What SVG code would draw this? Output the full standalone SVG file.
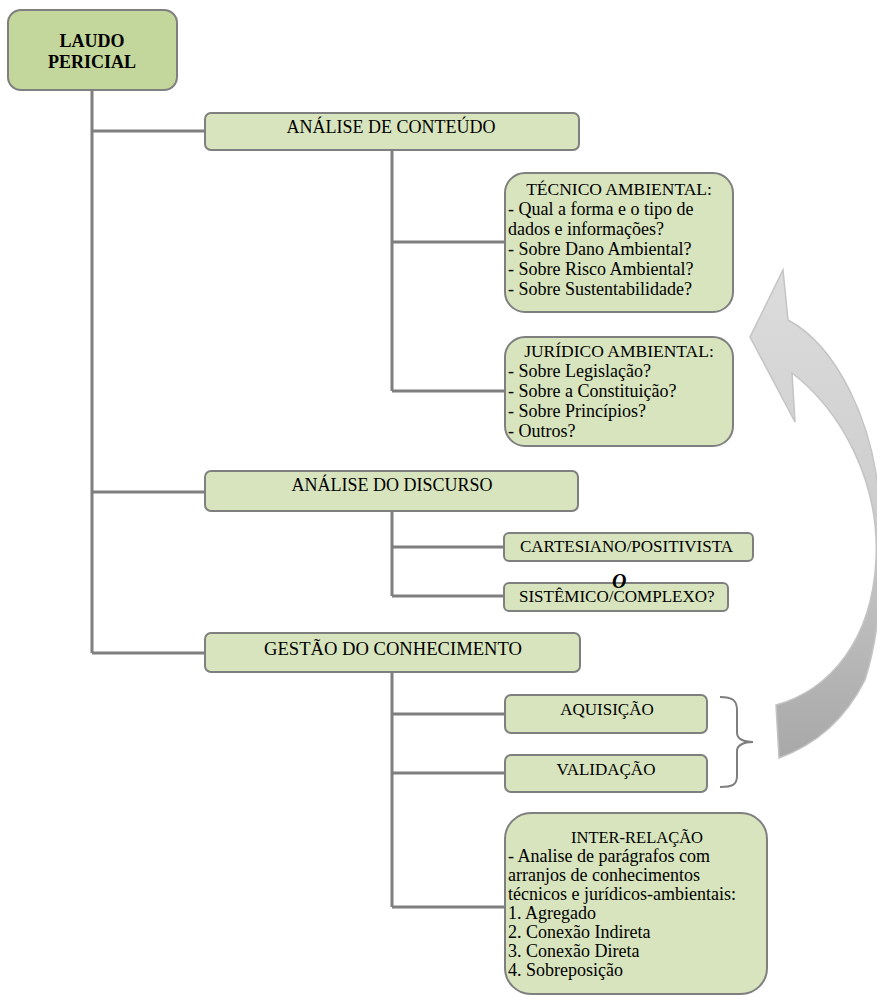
<svg xmlns="http://www.w3.org/2000/svg" width="877" height="996" viewBox="0 0 877 996">
<style>
.box{fill:#d7e4bd;stroke:#7f7f7f;stroke-width:2}
.root{fill:#c3d69b;stroke:#7f7f7f;stroke-width:2}
.ln{fill:none;stroke:#7f7f7f;stroke-width:3}
.br{fill:none;stroke:#7f7f7f;stroke-width:2}
text{font-family:"Liberation Serif","Times New Roman",serif;fill:#000}
.c{text-anchor:middle}
.t{font-size:18px}
</style>
<defs>
<linearGradient id="ag" gradientUnits="userSpaceOnUse" x1="0" y1="270" x2="0" y2="760">
<stop offset="0" stop-color="#dcdcdc"/>
<stop offset="0.45" stop-color="#cfcfcf"/>
<stop offset="1" stop-color="#a8a8a8"/>
</linearGradient>
</defs>
<rect width="877" height="996" fill="#ffffff"/>
<g id="connectors">
<path class="ln" d="M92,90 V653 M92,131 H205 M92,492 H205 M92,653 H205"/>
<path class="ln" d="M392,149 V391 M392,242 H505 M392,391 H505"/>
<path class="ln" d="M392,511 V596 M392,547 H504 M392,596 H504"/>
<path class="ln" d="M392,672 V907 M392,714 H505 M392,773 H505 M392,907 H505"/>
</g>
<g id="laudo">
<rect class="root" x="8" y="10" width="169" height="80" rx="13"/>
<text class="c" x="92" y="47" font-size="18" font-weight="bold">LAUDO</text>
<text class="c" x="92" y="68" font-size="18" font-weight="bold">PERICIAL</text>
</g>
<g id="analise-conteudo">
<rect class="box" x="205" y="113" width="374" height="37" rx="6"/>
<text class="c t" x="391" y="133">ANÁLISE DE CONTEÚDO</text>
</g>
<g id="tecnico">
<rect class="box" x="505" y="173" width="228" height="139" rx="20"/>
<text class="c" x="619" y="195" font-size="17.5">TÉCNICO AMBIENTAL:</text>
<text class="t" x="508" y="215">- Qual a forma e o tipo de</text>
<text class="t" x="508" y="235">dados e informações?</text>
<text class="t" x="508" y="255">- Sobre Dano Ambiental?</text>
<text class="t" x="508" y="275">- Sobre Risco Ambiental?</text>
<text class="t" x="508" y="295">- Sobre Sustentabilidade?</text>
</g>
<g id="juridico">
<rect class="box" x="505" y="337" width="228" height="109" rx="20"/>
<text class="c" x="619" y="357" font-size="17.5">JURÍDICO AMBIENTAL:</text>
<text class="t" x="508" y="377">- Sobre Legislação?</text>
<text class="t" x="508" y="397">- Sobre a Constituição?</text>
<text class="t" x="508" y="417">- Sobre Princípios?</text>
<text class="t" x="508" y="437">- Outros?</text>
</g>
<g id="analise-discurso">
<rect class="box" x="205" y="471" width="373" height="40" rx="6"/>
<text class="c t" x="392" y="491">ANÁLISE DO DISCURSO</text>
</g>
<g id="cartesiano">
<rect class="box" x="504" y="533" width="249" height="28" rx="5"/>
<text x="520" y="552" font-size="17">CARTESIANO/POSITIVISTA</text>
</g>
<g id="sistemico">
<rect class="box" x="504" y="583" width="224" height="28" rx="5"/>
<text x="519" y="602" font-size="17">SISTÊMICO/COMPLEXO?</text>
<text x="612" y="588" font-size="20" font-style="italic" font-weight="bold">O</text>
</g>
<g id="gestao">
<rect class="box" x="205" y="633" width="375" height="39" rx="6"/>
<text class="c" x="393" y="655" font-size="18.6">GESTÃO DO CONHECIMENTO</text>
</g>
<g id="aquisicao">
<rect class="box" x="505" y="695" width="202" height="38" rx="6"/>
<text class="c" x="607" y="715" font-size="17">AQUISIÇÃO</text>
</g>
<g id="validacao">
<rect class="box" x="505" y="755" width="202" height="37" rx="6"/>
<text class="c" x="606" y="775" font-size="17">VALIDAÇÃO</text>
</g>
<g id="inter-relacao">
<rect class="box" x="505" y="813" width="262" height="181" rx="26"/>
<text class="c" x="637" y="843" font-size="16.5">INTER-RELAÇÃO</text>
<text class="t" x="508" y="862">- Analise de parágrafos com</text>
<text class="t" x="508" y="881">arranjos de conhecimentos</text>
<text class="t" x="508" y="900">técnicos e jurídicos-ambientais:</text>
<text class="t" x="508" y="919">1. Agregado</text>
<text class="t" x="508" y="938">2. Conexão Indireta</text>
<text class="t" x="508" y="957">3. Conexão Direta</text>
<text class="t" x="508" y="976">4. Sobreposição</text>
</g>
<g id="brace">
<path class="br" d="M720,697 C732,697 737,700 737,710 V733 C737,739 744,742 753,742 C744,742 737,745 737,751 V776 C737,785 732,787 720,787"/>
</g>
<g id="curved-arrow">
<path d="M783,270 L788,320 C835,345 875,420 880,510 C885,580 878,640 865,680 C845,720 815,745 779,758 L776,705 C830,690 872,640 876,560 C880,480 840,410 792,373 L795,422 L750,337 Z" fill="url(#ag)" stroke="#c4c4c4" stroke-width="1.5" stroke-linejoin="miter"/>
</g>
</svg>
